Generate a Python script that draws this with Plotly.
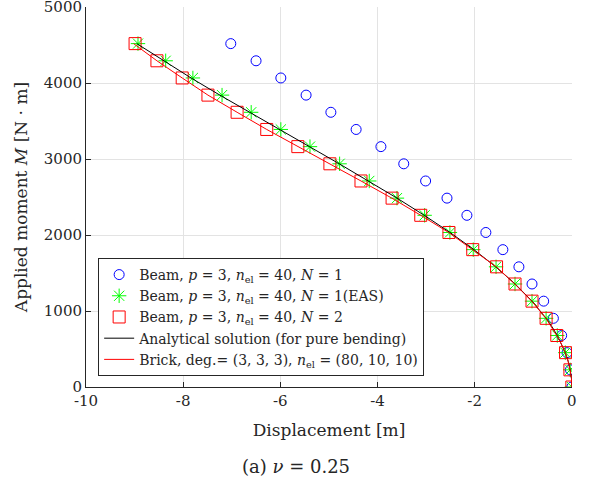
import plotly.graph_objects as go

# Applied moment levels (N·m)
moment = [0, 226, 452, 678, 904, 1130, 1356, 1582, 1808, 2034, 2260,
          2486, 2712, 2938, 3164, 3390, 3616, 3842, 4068, 4294, 4520]

# Beam, p=3, n_el=40, N=1
disp_n1 = [0, -0.03, -0.10, -0.21, -0.38, -0.58, -0.82, -1.09, -1.42, -1.77, -2.16,
           -2.57, -3.01, -3.46, -3.93, -4.44, -4.96, -5.47, -5.99, -6.50, -7.02]
# Beam, p=3, n_el=40, N=1 (EAS)
disp_eas = [0, -0.034, -0.134, -0.30, -0.53, -0.82, -1.17, -1.56, -2.03, -2.51, -3.03,
            -3.60, -4.17, -4.78, -5.39, -5.99, -6.60, -7.20, -7.80, -8.36, -8.93]
# Beam, p=3, n_el=40, N=2
disp_n2 = [0, -0.04, -0.13, -0.31, -0.53, -0.82, -1.17, -1.55, -2.04, -2.53, -3.11,
           -3.70, -4.34, -4.98, -5.64, -6.28, -6.89, -7.49, -8.02, -8.54, -8.99]

# Analytical solution (pure bending)
moment_line = [0, 57, 113, 226, 339, 452, 565, 678, 791, 904, 1130, 1356, 1582, 1808,
               2034, 2260, 2486, 2712, 2938, 3164, 3390, 3616, 3842, 4068, 4294, 4520]
disp_analytical = [0, -0.002, -0.008, -0.034, -0.075, -0.134, -0.209, -0.300, -0.407,
                   -0.529, -0.819, -1.167, -1.567, -2.016, -2.508, -3.038, -3.598,
                   -4.183, -4.787, -5.401, -6.020, -6.637, -7.245, -7.838, -8.409, -8.954]
# Brick, deg.=(3,3,3), n_el=(80,10,10)
disp_brick = [0, -0.002, -0.009, -0.036, -0.078, -0.137, -0.215, -0.310, -0.420,
              -0.535, -0.825, -1.175, -1.555, -2.045, -2.535, -3.110, -3.705,
              -4.340, -4.985, -5.640, -6.280, -6.890, -7.490, -8.020, -8.540, -9.020]

xticks = [-10, -8, -6, -4, -2, 0]
xtick_text = ["-10", "-8", "-6", "-4", "-2", "0"]
yticks = [0, 1000, 2000, 3000, 4000, 5000]
ytick_text = ["0", "1000", "2000", "3000", "4000", "5000"]

FONT = "DejaVu Serif"
TXT = "#262626"

fig = go.Figure()
fig.add_trace(go.Scatter(
    x=disp_n1, y=moment, mode="markers",
    name="Beam, <i>p</i> = 3, <i>n</i><sub>el</sub> = 40, <i>N</i> = 1",
    marker=dict(symbol="circle-open", size=10, color="#0000ff", line=dict(width=1))))
fig.add_trace(go.Scatter(
    x=disp_eas, y=moment, mode="markers",
    name="Beam, <i>p</i> = 3, <i>n</i><sub>el</sub> = 40, <i>N</i> = 1(EAS)",
    marker=dict(symbol="asterisk-open", size=12, color="#00ff00", line=dict(width=1, color="#00ff00"))))
fig.add_trace(go.Scatter(
    x=disp_n2, y=moment, mode="markers",
    name="Beam, <i>p</i> = 3, <i>n</i><sub>el</sub> = 40, <i>N</i> = 2",
    marker=dict(symbol="square-open", size=12, color="#ff0000", line=dict(width=1))))
fig.add_trace(go.Scatter(
    x=disp_analytical, y=moment_line, mode="lines",
    name="Analytical solution (for pure bending)",
    line=dict(color="black", width=1)))
fig.add_trace(go.Scatter(
    x=disp_brick, y=moment_line, mode="lines",
    name="Brick, deg.= (3, 3, 3), <i>n</i><sub>el</sub> = (80, 10, 10)",
    line=dict(color="#ff0000", width=1)))

fig.update_layout(
    width=592, height=490,
    margin=dict(l=86, r=20, t=7, b=103),
    paper_bgcolor="white", plot_bgcolor="white",
    font=dict(family=FONT, size=14, color=TXT),
    showlegend=True,
    legend=dict(x=0.025, y=0.029, xanchor="left", yanchor="bottom",
                bgcolor="white", bordercolor=TXT, borderwidth=1,
                font=dict(family=FONT, size=14, color=TXT),
                tracegroupgap=0, itemwidth=30),
    annotations=[dict(text="(a) <i>ν</i> = 0.25", x=0.432, y=-0.21,
                      xref="paper", yref="paper", showarrow=False,
                      xanchor="center", yanchor="middle",
                      font=dict(family=FONT, size=18, color=TXT))],
)
fig.update_xaxes(
    range=[-10, 0.003], tickvals=xticks, ticktext=xtick_text, automargin=False,
    showgrid=True, gridcolor="#e3e3e3", gridwidth=1, zeroline=False,
    showline=True, linecolor=TXT, linewidth=1,
    ticks="inside", ticklen=5, tickcolor=TXT,
    tickfont=dict(family=FONT, size=15, color=TXT),
    title=dict(text="Displacement [m]", standoff=15,
               font=dict(family=FONT, size=17, color=TXT)))
fig.update_yaxes(
    range=[0, 5002], tickvals=yticks, ticktext=ytick_text, automargin=False,
    showgrid=True, gridcolor="#e3e3e3", gridwidth=1, zeroline=False,
    showline=True, linecolor=TXT, linewidth=1,
    ticks="inside", ticklen=5, tickcolor=TXT,
    tickfont=dict(family=FONT, size=15, color=TXT),
    ticklabeloverflow="allow",
    title=dict(text="Applied moment <i>M</i> [N · m]", standoff=11,
               font=dict(family=FONT, size=17, color=TXT)))

fig.write_html("out.html", config={"displayModeBar": False},
               post_script="document.body.style.margin='0';")
